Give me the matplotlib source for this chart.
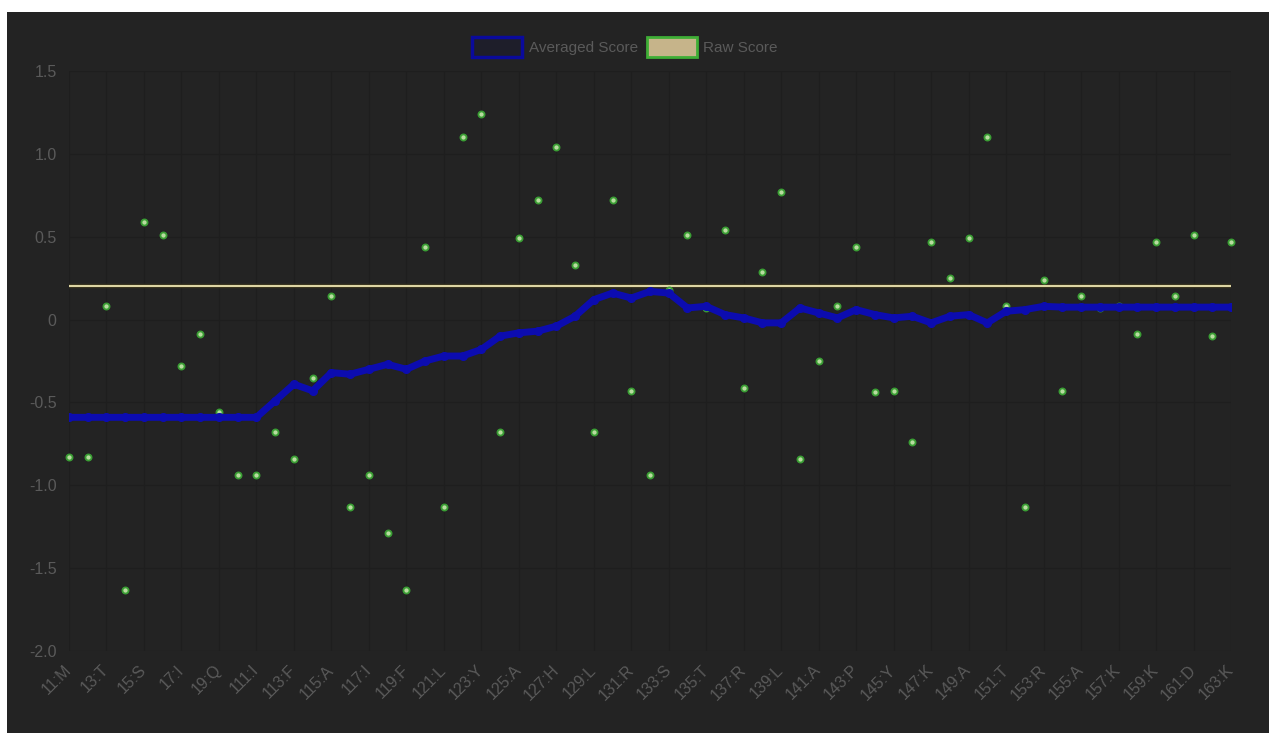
import matplotlib.pyplot as plt
from matplotlib.patches import Patch, Rectangle

# residue labels shown on the x axis (every other position)
tick_labels = ["11:M", "13:T", "15:S", "17:I", "19:Q", "111:I", "113:F", "115:A",
               "117:I", "119:F", "121:L", "123:Y", "125:A", "127:H", "129:L", "131:R",
               "133:S", "135:T", "137:R", "139:L", "141:A", "143:P", "145:Y", "147:K",
               "149:A", "151:T", "153:R", "155:A", "157:K", "159:K", "161:D", "163:K"]

raw_score = [-0.83, -0.83, 0.08, -1.63, 0.59, 0.51, -0.28, -0.09, -0.56, -0.94,
             -0.94, -0.68, -0.84, -0.35, 0.14, -1.13, -0.94, -1.29, -1.63, 0.44,
             -1.13, 1.10, 1.24, -0.68, 0.49, 0.72, 1.04, 0.33, -0.68, 0.72,
             -0.43, -0.94, 0.18, 0.51, 0.07, 0.54, -0.41, 0.29, 0.77, -0.84,
             -0.25, 0.08, 0.44, -0.44, -0.43, -0.74, 0.47, 0.25, 0.49, 1.10,
             0.08, -1.13, 0.24, -0.43, 0.14, 0.07, 0.08, -0.09, 0.47, 0.14,
             0.51, -0.10, 0.47]

averaged_score = [-0.59, -0.59, -0.59, -0.59, -0.59, -0.59, -0.59, -0.59, -0.59, -0.59,
                  -0.59, -0.49, -0.39, -0.43, -0.32, -0.33, -0.30, -0.27, -0.30, -0.25,
                  -0.22, -0.22, -0.18, -0.10, -0.08, -0.07, -0.04, 0.02, 0.12, 0.16,
                  0.13, 0.17, 0.16, 0.07, 0.08, 0.03, 0.01, -0.02, -0.02, 0.07,
                  0.04, 0.01, 0.06, 0.03, 0.01, 0.02, -0.02, 0.02, 0.03, -0.02,
                  0.05, 0.06, 0.08, 0.075, 0.075, 0.075, 0.075, 0.075, 0.075, 0.075,
                  0.075, 0.075, 0.075]

raw_level = 0.2

bg = "#232323"
grid_col = "#1e1e1e"
text_col = "#5a5a5a"
blue = "#0c0cb0"
font = ["Liberation Sans", "DejaVu Sans"]

W, H = 1269, 733
fig = plt.figure(figsize=(W / 100, H / 100), dpi=100)
fig.patch.set_facecolor("white")
# dark canvas with the thin white strip along top and left
fig.patches.append(Rectangle((7 / W, 0), 1 - 7 / W, 1 - 12 / H,
                             transform=fig.transFigure, facecolor=bg,
                             edgecolor="none", zorder=-1))

ax = fig.add_axes([69 / W, 1 - 651 / H, (1231 - 69) / W, (651 - 71) / H])
ax.set_zorder(1)
ax.set_facecolor(bg)
for s in ax.spines.values():
    s.set_visible(False)

x = list(range(len(raw_score)))

ax.set_xlim(0, len(raw_score) - 1)
ax.set_ylim(-2.0, 1.5)
ax.set_yticks([-2.0, -1.5, -1.0, -0.5, 0, 0.5, 1.0, 1.5])
ax.set_yticklabels(["-2.0", "-1.5", "-1.0", "-0.5", "0", "0.5", "1.0", "1.5"])
ax.set_xticks(x[::2])
ax.set_xticklabels(tick_labels, rotation=45, ha="right", va="center",
                   rotation_mode="anchor")
ax.tick_params(axis="both", length=0, colors=text_col, labelsize=11.5)
ax.tick_params(axis="y", pad=9)
ax.tick_params(axis="x", pad=12)
for lbl in ax.get_xticklabels() + ax.get_yticklabels():
    lbl.set_family(font)
ax.grid(True, color=grid_col, linewidth=1.0)
ax.set_axisbelow(True)

# raw score reference level
ax.plot([x[0], x[-1]], [raw_level, raw_level], color="#3a3520", linewidth=3.2, zorder=2)
ax.plot([x[0], x[-1]], [raw_level, raw_level], color="#e2daa8", linewidth=1.4, zorder=2)

# raw score points
ax.plot(x, raw_score, linestyle="none", marker="o", markersize=4.4,
        markerfacecolor="#b8dca0", markeredgecolor="#3a9e34", markeredgewidth=1.3,
        zorder=3, clip_on=False)

# averaged score line
ax.plot(x, averaged_score, color=blue, linewidth=5.0, marker="o", markersize=5.5,
        markerfacecolor=blue, markeredgecolor=blue, zorder=4, solid_joinstyle="round",
        solid_capstyle="round")

handles = [Patch(facecolor="#1e1e2a", edgecolor="#0a0a9c", linewidth=2.5, label="Averaged Score"),
           Patch(facecolor="#c6b48a", edgecolor="#3fae36", linewidth=2.0, label="Raw Score")]
leg = fig.legend(handles=handles, loc="center", bbox_to_anchor=(625 / W, 1 - 47 / H),
                 ncol=2, frameon=False, handlelength=3.3, handleheight=1.6,
                 handletextpad=0.4, columnspacing=0.6,
                 prop={"family": font, "size": 11})
for t in leg.get_texts():
    t.set_color(text_col)

fig.savefig("out.png", dpi=100, facecolor=fig.get_facecolor())
